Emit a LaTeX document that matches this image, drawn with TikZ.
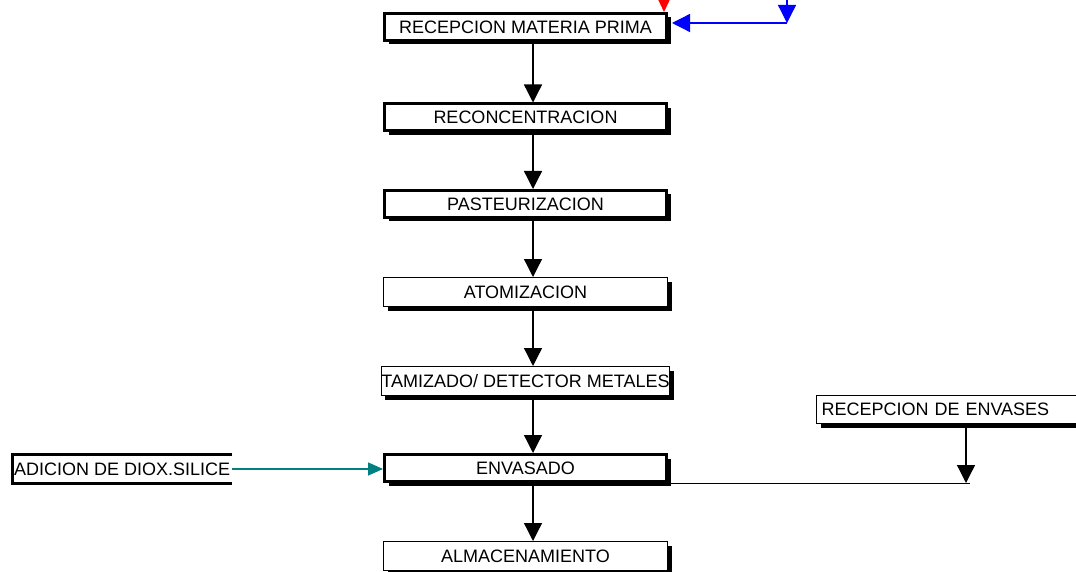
\documentclass[tikz,border=0pt]{standalone}
\usepackage{fontspec}
\setmainfont{Liberation Sans}
\usetikzlibrary{arrows.meta,shadows,calc}
\begin{document}
\begin{tikzpicture}[x=1pt,y=-1pt,
  box/.style={draw=black, fill=white, inner sep=0pt,
    font=\fontsize{18}{20}\selectfont,
    drop shadow={shadow xshift=4pt, shadow yshift=-4pt, fill=black, opacity=1}},
  thickbox/.style={box, line width=3pt, minimum width=282pt, minimum height=27pt},
  thinbox/.style={box, line width=1pt, minimum width=284pt, minimum height=29pt},
  arr/.style={line width=1.3pt, -{Triangle[length=18pt,width=18pt]}},
  tealarr/.style={draw={rgb,255:red,0;green,128;blue,128}, line width=1.3pt,
    -{Triangle[length=15pt,width=13pt]}},
  bluearr/.style={draw=blue, line width=1.3pt, -{Triangle[length=18pt,width=18pt]}},
  redarr/.style={draw=red, line width=1.3pt, -{Triangle[length=13pt,width=12pt]}},
]
\useasboundingbox (0,0) rectangle (1076,572);
\clip (0,0) rectangle (1076,572);
\fill[white] (0,0) rectangle (1076,572);

% main column
\node[thickbox] (b1) at (525.5,27)  {RECEPCION MATERIA PRIMA};
\node[thickbox] (b2) at (525.5,117.5) {RECONCENTRACION};
\node[thickbox] (b3) at (525.5,204) {PASTEURIZACION};
\node[thinbox]  (b4) at (525.5,292) {ATOMIZACION};
\node[thinbox]  (b5) at (525.5,381) {TAMIZADO/ DETECTOR METALES};
\node[thickbox] (b6) at (525.5,468) {ENVASADO};
\node[thinbox]  (b7) at (525.5,556) {ALMACENAMIENTO};

\coordinate (ax) at (533,0);
\draw[arr] (b1.south -| ax) -- (b2.north -| ax);
\draw[arr] (b2.south -| ax) -- (b3.north -| ax);
\draw[arr] (b3.south -| ax) -- (b4.north -| ax);
\draw[arr] (b4.south -| ax) -- (b5.north -| ax);
\draw[arr] (b5.south -| ax) -- (b6.north -| ax);
\draw[arr] (b6.south -| ax) -- (b7.north -| ax);

% top inputs
\coordinate (rtop) at (664,-10);
\draw[redarr] (rtop) -- (b1.north -| rtop);
\coordinate (btop) at (787,-10);
\coordinate (bj) at (787,23);
\draw[bluearr] (btop) -- (bj);
\draw[bluearr] (bj) -- ($(b1.east |- bj)+(4,0)$);

% left input
\node[anchor=west, inner xsep=2pt, inner ysep=0pt, minimum height=29pt,
      font=\fontsize{18}{20}\selectfont] (ad) at (12,469) {ADICION DE DIOX.SILICE};
\draw[line width=3pt] (ad.north east) -- (ad.north west) -- (ad.south west) -- (ad.south east);
\draw[tealarr] (ad.east) -- (ad.east -| b6.west);

% right input
\node[thinbox, anchor=west, text width=280pt, align=left, inner xsep=5pt,
      minimum height=28pt] (re) at (816,409.5) {RECEPCION DE ENVASES};
\coordinate (ej) at (966,483);
\draw[line width=1pt] ($(b6.east |- ej)+(3,0)$) -- ($(ej)+(4,0)$);
\draw[arr] (re.south -| ej) -- (ej);
\end{tikzpicture}
\end{document}
